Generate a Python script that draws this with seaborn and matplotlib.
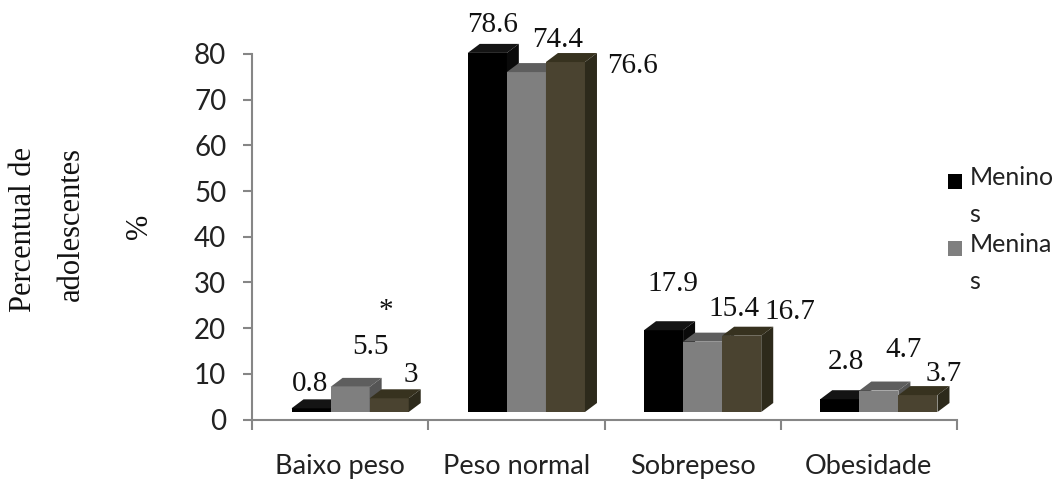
import matplotlib
matplotlib.use("Agg")
import matplotlib.pyplot as plt
import matplotlib.transforms as mtransforms
from matplotlib.patches import Polygon, Rectangle
from matplotlib.legend_handler import HandlerPatch
from matplotlib.ticker import FixedLocator
import pandas as pd
import seaborn as sns

# ---- data -------------------------------------------------------------
categories = ["Baixo peso", "Peso normal", "Sobrepeso", "Obesidade"]
groups = ["Meninos", "Meninas", "Total"]
meninos = [0.8, 78.6, 17.9, 2.8]
meninas = [5.5, 74.4, 15.4, 4.7]
total = [3.0, 76.6, 16.7, 3.7]
y_ticks = [0, 10, 20, 30, 40, 50, 60, 70, 80]
legend_labels = ["Menino\ns", "Menina\ns"]

# ---- style ------------------------------------------------------------
front_colors = ["#000000", "#7f7f7f", "#4a4330"]
top_colors = ["#141414", "#5e5e5e", "#37321f"]
side_colors = ["#0a0a0a", "#555555", "#2d2a1b"]
axis_grey = "#868686"
sans = ["Lato", "DejaVu Sans"]
serif = ["Liberation Serif", "DejaVu Serif"]

# label placement (pixels right / down from the top-centre of each bar face)
label_offsets = {
    "Meninos": [(-1, -27), (5.5, -30), (9.5, -49), (6.5, -40)],
    "Meninas": [(20.5, -42), (31.5, -34.5), (31.5, -35.5), (25, -43)],
    "Total": [(21.5, -26), (67.5, 1.5), (48.5, -26), (25.5, -24)],
}

df = pd.DataFrame({
    "categoria": categories * 3,
    "grupo": [g for g in groups for _ in categories],
    "valor": meninos + meninas + total,
})

W, H, DPI = 1055, 483, 100
fig = plt.figure(figsize=(W / DPI, H / DPI), dpi=DPI)
fig.patch.set_facecolor("white")
ax = fig.add_axes([252 / W, 63.5 / H, 705 / W, 365.5 / H])

sns.barplot(data=df, x="categoria", y="valor", hue="grupo",
            order=categories, hue_order=groups, palette=front_colors,
            width=0.665, saturation=1, linewidth=0, edgecolor="none",
            legend=False, ax=ax)

ax.set_xlim(-0.5, 3.5)
ax.set_ylim(0, 80)
ax.set_facecolor("white")

# pixel -> data scale for the 3-D depth faces
p0 = ax.transData.transform((0, 0))
p1 = ax.transData.transform((1, 1))
sx, sy = p1[0] - p0[0], p1[1] - p0[1]
DX, DY = 12, 9
ddx, ddy = DX / sx, DY / sy

# the bar block sits a little right of / above the axis origin
shift = mtransforms.ScaledTranslation(10 / DPI, 7.5 / DPI, fig.dpi_scale_trans)
tr = ax.transData + shift

for i, (grp, container) in enumerate(zip(groups, ax.containers)):
    for j, bar in enumerate(container):
        x0, w, h = bar.get_x(), bar.get_width(), bar.get_height()
        bar.set_transform(tr)
        bar.set_zorder(3 + i)
        bar.set_clip_on(False)
        top = Polygon([(x0, h), (x0 + ddx, h + ddy), (x0 + w + ddx, h + ddy), (x0 + w, h)],
                      closed=True, facecolor=top_colors[i], edgecolor="none",
                      transform=tr, zorder=3 + i, clip_on=False)
        side = Polygon([(x0 + w, 0), (x0 + w, h), (x0 + w + ddx, h + ddy), (x0 + w + ddx, ddy)],
                       closed=True, facecolor=side_colors[i], edgecolor="none",
                       transform=tr, zorder=3 + i, clip_on=False)
        ax.add_patch(top)
        ax.add_patch(side)
        ox, oy = label_offsets[grp][j]
        ax.annotate(f"{h:g}", xy=(x0 + w / 2, h), xycoords=tr,
                    xytext=(ox, -oy - 9.5), textcoords="offset pixels",
                    ha="center", va="baseline", fontsize=21,
                    family=serif, color="#111111", zorder=10,
                    annotation_clip=False)

# significance mark over the "Baixo peso" group
ax.text(0.257, 22.2, "*", ha="center", va="baseline", fontsize=21,
        family=serif, color="#111111", zorder=10)

# ---- axes -------------------------------------------------------------
for s in ["top", "right"]:
    ax.spines[s].set_visible(False)
for s in ["left", "bottom"]:
    ax.spines[s].set_color(axis_grey)
    ax.spines[s].set_linewidth(1.5)
    ax.spines[s].set_zorder(1)

ax.yaxis.set_major_locator(FixedLocator(y_ticks))
ax.set_yticklabels([str(t) for t in y_ticks])
ax.tick_params(axis="y", direction="out", length=6.5, width=1.5,
               color=axis_grey, labelsize=20, pad=12, labelcolor="#222222")
ax.xaxis.set_minor_locator(FixedLocator([-0.5, 0.5, 1.5, 2.5, 3.5]))
ax.tick_params(axis="x", which="major", length=0, labelsize=19.5,
               pad=25, labelcolor="#222222")
ax.tick_params(axis="x", which="minor", direction="out", length=7,
               width=1.5, color=axis_grey)
for lab in ax.get_xticklabels() + ax.get_yticklabels():
    lab.set_family(sans)
ax.set_xlabel("")
ax.set_ylabel("")

# y-axis title, two rotated lines plus the unit
fig.text(24 / W, 1 - 229 / H, "Percentual de", rotation=90,
         ha="center", va="center", fontsize=22, family=serif, color="#111111")
fig.text(71 / W, 1 - 224 / H, "adolescentes", rotation=90,
         ha="center", va="center", fontsize=22, family=serif, color="#111111")
fig.text(139 / W, 1 - 226 / H, "%", rotation=90, ha="center", va="center",
         fontsize=22, family=serif, color="#111111")


# ---- legend (square aligned with the first text line) -----------------
class FirstLineHandler(HandlerPatch):
    def __init__(self, lift, **kw):
        super().__init__(**kw)
        self.lift = lift

    def create_artists(self, legend, orig_handle, xdescent, ydescent,
                       width, height, fontsize, trans):
        r = Rectangle((-xdescent, -ydescent + self.lift * fontsize), width, height,
                      facecolor=orig_handle.get_facecolor(), edgecolor="none",
                      transform=trans)
        return [r]


handles = [Rectangle((0, 0), 1, 1, facecolor=c) for c in front_colors[:2]]
handler = FirstLineHandler(0.6)
leg = fig.legend(handles, legend_labels, loc="upper left",
                 bbox_to_anchor=(948 / W, 1 - 166 / H), frameon=False,
                 prop={"family": sans, "size": 18}, handlelength=0.56,
                 handleheight=0.52, handletextpad=0.3, labelspacing=0.3,
                 borderpad=0, borderaxespad=0,
                 handler_map={Rectangle: handler})
for t in leg.get_texts():
    t.set_color("#222222")
    t.set_linespacing(1.72)

fig.savefig("out.png", dpi=DPI, facecolor="white")
